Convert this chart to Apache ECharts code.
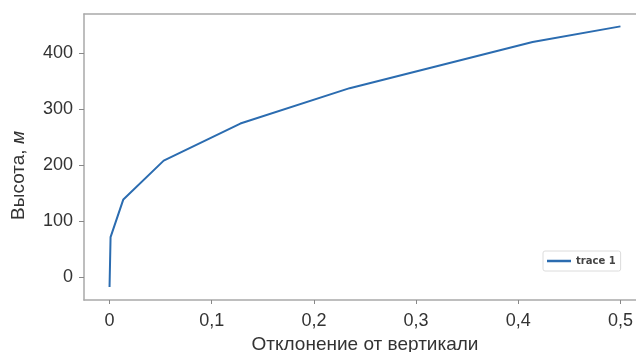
<!DOCTYPE html>
<html>
<head>
<meta charset="utf-8">
<style>
  html, body { margin: 0; padding: 0; background: #fff; }
  #chart { width: 636px; height: 352px; }
</style>
<script src="https://cdn.jsdelivr.net/npm/echarts@6/dist/echarts.min.js"></script>
</head>
<body>
<div id="chart"></div>
<script>
// Deflection from vertical (x) versus height in metres (y)
const deflection = [0, 0.001, 0.0135, 0.053, 0.128, 0.235, 0.414, 0.5];
const height = [-17, 72, 139, 208, 274, 337, 419, 447];
const xTicks = [0, 0.1, 0.2, 0.3, 0.4, 0.5];
const yTicks = [0, 100, 200, 300, 400];
const seriesName = 'trace 1';

const points = deflection.map((d, i) => [d, height[i]]);

const chart = echarts.init(document.getElementById('chart'));
const axisGray = '#a9a9a9';
const labelFont = 'Liberation Sans, Arial, sans-serif';
const xMin = -0.025, xMax = 0.525;

chart.setOption({
  animation: false,
  grid: { left: 84, top: 14, right: -10, bottom: 52, outerBoundsMode: 'none', containLabel: false },
  legend: {
    data: [{ name: seriesName, icon: 'rect' }],
    left: 543, top: 251,
    itemWidth: 24, itemHeight: 2.5,
    itemGap: 6,
    padding: [5, 5, 5, 4],
    borderColor: '#dcdcdc', borderWidth: 1, borderRadius: 2,
    textStyle: { fontSize: 10, fontWeight: 'bold', color: '#444', fontFamily: 'DejaVu Sans' }
  },
  xAxis: [{
    type: 'value',
    min: xMin, max: xMax,
    name: 'Отклонение от вертикали',
    nameLocation: 'middle',
    nameGap: 35,
    nameTextStyle: { fontSize: 19, color: '#333', fontFamily: labelFont },
    axisLine: { show: true, onZero: false, lineStyle: { color: axisGray, width: 1.5 } },
    axisTick: { show: true, length: 4, customValues: xTicks, lineStyle: { color: '#888' } },
    axisLabel: {
      customValues: xTicks,
      margin: 12,
      fontSize: 18, color: '#333', fontFamily: labelFont,
      formatter: v => String(v).replace('.', ',')
    },
    splitLine: { show: false }
  }, {
    // top frame line
    type: 'value',
    position: 'top',
    min: xMin, max: xMax,
    axisLine: { show: true, onZero: false, lineStyle: { color: axisGray, width: 1.5 } },
    axisTick: { show: false },
    axisLabel: { show: false },
    splitLine: { show: false }
  }],
  yAxis: {
    type: 'value',
    min: -40, max: 469,
    name: 'Высота, {i|м}',
    nameLocation: 'middle',
    nameGap: 56,
    nameTextStyle: {
      fontSize: 19, color: '#333', fontFamily: labelFont,
      padding: [0, 37, 0, 0],
      rich: { i: { fontSize: 19, fontStyle: 'italic', color: '#333', fontFamily: labelFont } }
    },
    axisLine: { show: true, onZero: false, lineStyle: { color: axisGray, width: 1.5 } },
    axisTick: { show: true, length: 5, customValues: yTicks, lineStyle: { color: '#888' } },
    axisLabel: {
      customValues: yTicks,
      margin: 11,
      fontSize: 18, color: '#333', fontFamily: labelFont
    },
    splitLine: { show: false }
  },
  series: [{
    name: seriesName,
    type: 'line',
    data: points,
    showSymbol: false,
    lineStyle: { color: '#2b6cb0', width: 2 },
    itemStyle: { color: '#2b6cb0' }
  }]
});
</script>
</body>
</html>
